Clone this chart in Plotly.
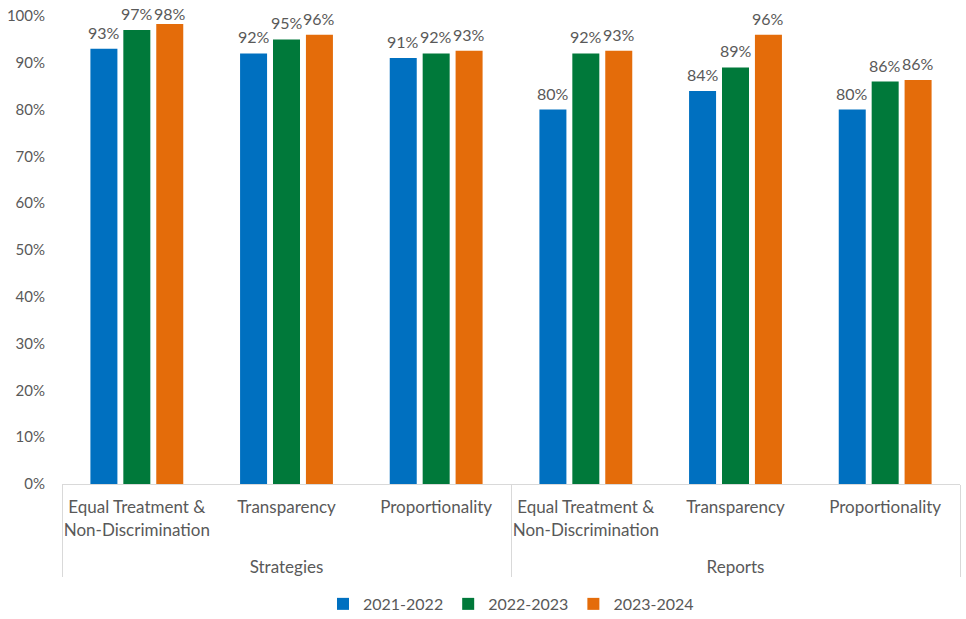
import plotly.graph_objects as go

groups = ["Strategies"] * 3 + ["Reports"] * 3
principles = ["Equal Treatment &<br>Non-Discrimination", "Transparency", "Proportionality"] * 2

years = ["2021-2022", "2022-2023", "2023-2024"]
vals_2021 = [0.93, 0.92, 0.91, 0.80, 0.84, 0.80]
vals_2022 = [0.97, 0.95, 0.92, 0.92, 0.89, 0.86]
vals_2023 = [0.983, 0.96, 0.926, 0.926, 0.96, 0.863]
colors = ["#0070C0", "#00793A", "#E46C0A"]

bargap = 0.34
slot = (1 - bargap) / len(years)
label_cap = 0.97  # labels stay inside the chart, like Excel does

# extra blank line pushes the group labels (Strategies / Reports) further down
tick_labels = [p + "<br> " for p in principles]

fig = go.Figure()
annotations = []
for k, (name, vals, col) in enumerate(zip(years, [vals_2021, vals_2022, vals_2023], colors)):
    fig.add_trace(go.Bar(
        x=[groups, tick_labels], y=vals, name=name,
        marker=dict(color=col, line=dict(width=0)),
        hovertemplate="%{y:.0%}<extra>" + name + "</extra>",
    ))
    # value labels over each bar
    for i, v in enumerate(vals):
        annotations.append(dict(
            x=i + (k - 1) * slot, y=min(v, label_cap), xref="x", yref="y",
            text=f"{v:.0%}", showarrow=False, yanchor="bottom", yshift=5,
            font=dict(size=16, color="#595959"),
        ))

fig.update_layout(
    width=966, height=619,
    margin=dict(l=62, r=6, t=16, b=135, autoexpand=False),
    plot_bgcolor="white", paper_bgcolor="white",
    font=dict(family="Lato, Open Sans, sans-serif", size=16, color="#595959"),
    barmode="group", bargap=bargap, bargroupgap=0.18,
    legend=dict(orientation="h", x=0.5, xanchor="center", y=-0.22, yanchor="top",
                font=dict(size=16, color="#595959")),
    annotations=annotations,
    showlegend=True,
)
fig.update_yaxes(range=[0, 1], dtick=0.1, tickformat=".0%", showgrid=False,
                 zeroline=False, ticks="", ticklabelstandoff=16, automargin=False,
                 tickfont=dict(size=15))
fig.update_xaxes(showline=True, linecolor="#d9d9d9", linewidth=1,
                 dividercolor="#d9d9d9", dividerwidth=1, showgrid=False, ticks="",
                 tickangle=0, tickfont=dict(size=17), ticklabelstandoff=8,
                 automargin=False)

# drop the default 8px page margin so the figure sits at the window corner
fig.write_html("out.html", config={"displayModeBar": False},
               post_script="document.body.style.margin='0';")
